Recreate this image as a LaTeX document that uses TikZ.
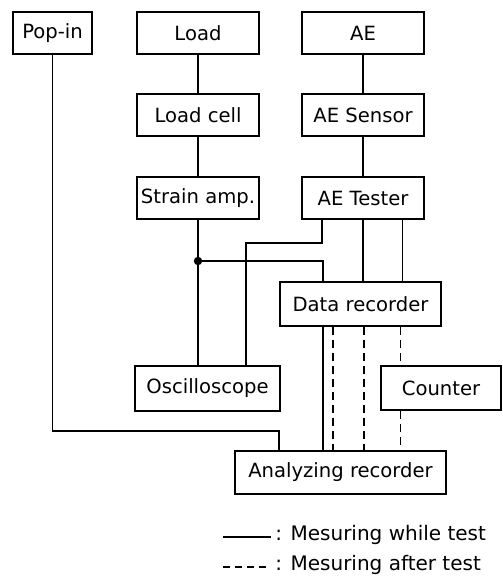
\documentclass[tikz,border=0pt]{standalone}
\usepackage{fontspec}
\setmainfont{DejaVu Sans}
\usepackage{tikz}
\usetikzlibrary{positioning}
\usetikzlibrary{calc}
\tikzset{box/.style={draw,line width=1pt,minimum height=21pt,inner sep=2pt,font=\fontsize{9.8}{12}\selectfont},
wire/.style={line width=0.6pt},
later/.style={line width=0.6pt,dash pattern=on 4pt off 2.5pt},
jdot/.style={circle,fill,inner sep=0pt,minimum size=4.2pt}}

\begin{document}
\begin{tikzpicture}[x=0.5pt,y=-0.5pt]
\useasboundingbox (0,0) rectangle (502,576);
\node (pop) at (52.5,33) [box,minimum width=39.5pt] {Pop-in};
\node (load) at (198,33) [box,minimum width=61pt] {Load};
\node (ae) at (363,33) [box,minimum width=61pt] {AE};
\node (cell) [box,minimum width=61pt,below of=load,node distance=41pt] {Load cell};
\node (amp) [box,minimum width=61pt,below of=cell,node distance=41.5pt] {Strain amp.};
\node (sens) [box,minimum width=61pt,below of=ae,node distance=41pt] {AE Sensor};
\node (tester) [box,minimum width=61pt,below of=sens,node distance=41.5pt] {AE Tester};
\node (drec) at (360.5,304) [box,minimum width=80.5pt,minimum height=22pt] {Data recorder};
\node (osc) at (207.5,388.5) [box,minimum width=72.5pt,minimum height=22.5pt] {Oscilloscope};
\node (cnt) at (441,388) [box,minimum width=60pt,minimum height=22pt] {Counter};
\node (arec) at (340.5,472.5) [box,minimum width=105.5pt,minimum height=21.5pt] {Analyzing recorder};
\node (jn) at (198,261) [jdot] {};
% chains
\draw[wire] (load) -- (cell);
\draw[wire] (cell) -- (amp);
\draw[wire] (ae) -- (sens);
\draw[wire] (sens) -- (tester);
\draw[wire] (amp) -- (amp |- osc.north);
\draw[wire] (jn.center) -| ($(drec.north west)+(44,0)$);
\draw[wire] ($(tester.south west)+(21,0)$) -- ++(0,23) -| ($(osc.north west)+(112,0)$);
\draw[wire] (tester) -- (tester |- drec.north);
\coordinate (tr) at ($(tester.south east)+(-22.5,0)$);
\draw[wire] (tr) -- (tr |- drec.north);
% to the recorders
\foreach \n/\dx in {1/44, 2/54, 3/85, 4/121.5}
  \coordinate (d\n) at ($(drec.south west)+(\dx,0)$);
\draw[wire] (d1) -- (d1 |- arec.north);
\draw[later] (d2) -- (d2 |- arec.north);
\draw[later] (d3) -- (d3 |- arec.north);
\draw[later] (d4) -- (d4 |- cnt.north);
\draw[later] (d4 |- cnt.south) -- (d4 |- arec.north);
\draw[wire] (pop.south) -- ++(0,376) -| ($(arec.north west)+(45,0)$);
% legend
\node (lw) at (271,535) [anchor=west,inner sep=2pt,font=\fontsize{10}{12}\selectfont] {: Mesuring while test};
\node (la) at (271,565) [anchor=west,inner sep=2pt,font=\fontsize{10}{12}\selectfont] {: Mesuring after test};
\coordinate (lw0) at (223,537);
\coordinate (la0) at (223,567);
\draw[wire] (lw0) -- (lw0 -| lw.west);
\draw[later,dash pattern=on 3.5pt off 2.5pt] (la0) -- (la0 -| la.west);
\end{tikzpicture}
\end{document}
